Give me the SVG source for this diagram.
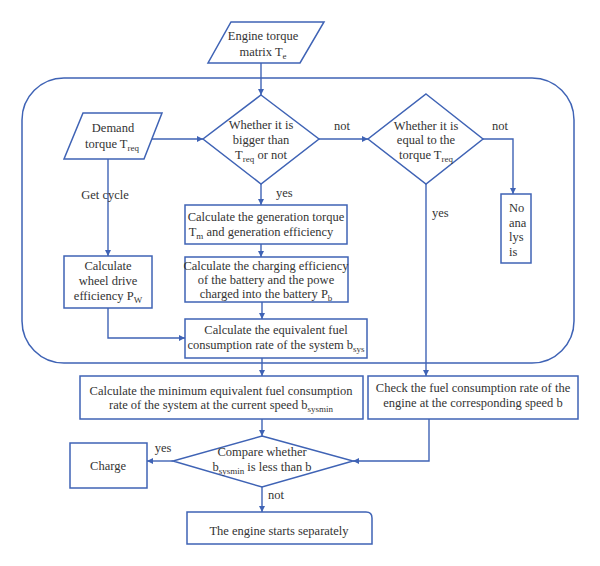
<svg xmlns="http://www.w3.org/2000/svg" width="600" height="566" viewBox="0 0 600 566">
<style>
.s{fill:#fff;stroke:#3f63b5;stroke-width:1.5}
.c{fill:none;stroke:#3f63b5;stroke-width:1.4}
text{font-family:"Liberation Serif","Times New Roman",serif;font-size:12.5px;fill:#333;text-anchor:middle}
.l{text-anchor:start}
</style>
<defs>
<marker id="a" viewBox="0 0 10 10" refX="10" refY="5" markerWidth="6" markerHeight="6" orient="auto" markerUnits="userSpaceOnUse">
<path d="M0,0L10,5L0,10z" fill="#3f63b5"/>
</marker>
</defs>
<rect id="container" x="22" y="78" width="552" height="285" rx="42" ry="42" fill="none" stroke="#3f63b5" stroke-width="1.5"/>
<g id="connectors">
<path class="c" d="M261,63V95" marker-end="url(#a)"/>
<path class="c" d="M152,139H203" marker-end="url(#a)"/>
<path class="c" d="M317,139H368" marker-end="url(#a)"/>
<path class="c" d="M483,139H513V194" marker-end="url(#a)"/>
<path class="c" d="M261,184V205" marker-end="url(#a)"/>
<path class="c" d="M108,159V256" marker-end="url(#a)"/>
<path class="c" d="M261,244V257" marker-end="url(#a)"/>
<path class="c" d="M108,308V338H185" marker-end="url(#a)"/>
<path class="c" d="M262,302V319" marker-end="url(#a)"/>
<path class="c" d="M426,184V376" marker-end="url(#a)"/>
<path class="c" d="M262,358V376" marker-end="url(#a)"/>
<path class="c" d="M429,419V461H353" marker-end="url(#a)"/>
<path class="c" d="M262,419V436" marker-end="url(#a)"/>
<path class="c" d="M173,461H147" marker-end="url(#a)"/>
<path class="c" d="M262,487V512" marker-end="url(#a)"/>
<text x="342" y="130">not</text>
<text x="500" y="130">not</text>
<text x="276" y="197" class="l">yes</text>
<text x="432" y="217" class="l">yes</text>
<text x="105" y="199">Get cycle</text>
<text x="163" y="452">yes</text>
<text x="268" y="499" class="l">not</text>
</g>
<g id="engine-torque">
<path class="s" d="M231,22H324L300,63H208Z"/>
<text x="263" y="40">Engine torque</text>
<text x="263" y="56">matrix T<tspan font-size="9" dy="3">e</tspan></text>
</g>
<g id="demand-torque">
<path class="s" d="M83,113H162L144,159H64Z"/>
<text x="113" y="132">Demand</text>
<text x="112" y="148">torque T<tspan font-size="9" dy="3">req</tspan></text>
</g>
<g id="decision-bigger">
<path class="s" d="M261,95L319,139L261,184L203,139Z"/>
<text x="261" y="129">Whether it is</text>
<text x="261" y="144">bigger than</text>
<text x="261" y="159">T<tspan font-size="9" dy="3">req</tspan><tspan dy="-3"> or not</tspan></text>
</g>
<g id="decision-equal">
<path class="s" d="M426,94L483,139L426,184L368,139Z"/>
<text x="426" y="130">Whether it is</text>
<text x="426" y="144">equal to the</text>
<text x="426" y="159">torque T<tspan font-size="9" dy="3">req</tspan></text>
</g>
<g id="no-analysis">
<rect class="s" x="501" y="194" width="30" height="69"/>
<text x="509" y="212" class="l">No</text>
<text x="509" y="227" class="l">ana</text>
<text x="509" y="241" class="l">lys</text>
<text x="509" y="256" class="l">is</text>
</g>
<g id="generation">
<rect class="s" x="185" y="205" width="162" height="39"/>
<text x="266" y="221">Calculate the generation torque</text>
<text x="261" y="236">T<tspan font-size="9" dy="3">m</tspan><tspan dy="-3"> and generation efficiency</tspan></text>
</g>
<g id="charging">
<rect class="s" x="185" y="257" width="163" height="45"/>
<text x="266" y="270">Calculate the charging efficiency</text>
<text x="266" y="284">of the battery and the powe</text>
<text x="266" y="298">charged into the battery P<tspan font-size="9" dy="3">b</tspan></text>
</g>
<g id="wheel-drive">
<rect class="s" x="64" y="256" width="88" height="52"/>
<text x="108" y="270">Calculate</text>
<text x="108" y="285">wheel drive</text>
<text x="108" y="300">efficiency P<tspan font-size="9" dy="3">W</tspan></text>
</g>
<g id="equivalent">
<rect class="s" x="185" y="319" width="182" height="39"/>
<text x="276" y="334">Calculate the equivalent fuel</text>
<text x="276" y="349">consumption rate of the system b<tspan font-size="9" dy="3">sys</tspan></text>
</g>
<g id="minimum">
<rect class="s" x="80" y="376" width="283" height="43"/>
<text x="221" y="395">Calculate the minimum equivalent fuel consumption</text>
<text x="221" y="409">rate of the system at the current speed b<tspan font-size="9" dy="3">sysmin</tspan></text>
</g>
<g id="check">
<rect class="s" x="368" y="376" width="210" height="43"/>
<text x="473" y="392">Check the fuel consumption rate of the</text>
<text x="473" y="407">engine at the corresponding speed b</text>
</g>
<g id="compare">
<path class="s" d="M262,436L353,461L262,487L173,461Z"/>
<text x="262" y="456">Compare whether</text>
<text x="262" y="471">b<tspan font-size="9" dy="3">sysmin</tspan><tspan dy="-3"> is less than b</tspan></text>
</g>
<g id="charge">
<rect class="s" x="70" y="443" width="77" height="45"/>
<text x="108" y="470">Charge</text>
</g>
<g id="engine-starts">
<path class="s" d="M187,512H366Q372,512 372,518V544H187Z"/>
<text x="279" y="535">The engine starts separately</text>
</g>
</svg>
